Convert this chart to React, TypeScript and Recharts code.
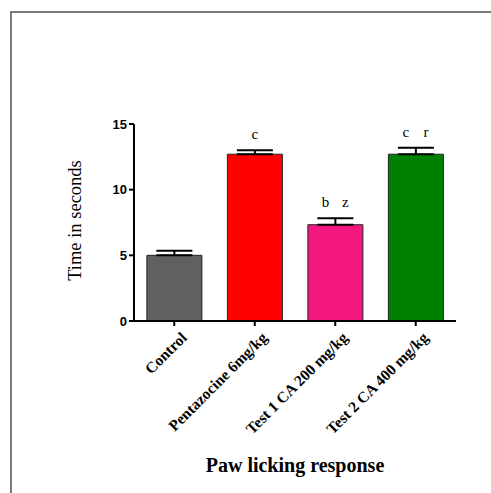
import React from "react";
import { BarChart, Bar, XAxis, YAxis, ErrorBar, Cell, LabelList } from "recharts";

const categories = ["Control", "Pentazocine 6mg/kg", "Test 1 CA 200 mg/kg", "Test 2 CA 400 mg/kg"];
const means = [5.0, 12.7, 7.33, 12.7];
const sems = [0.35, 0.3, 0.5, 0.5];
const letters = [[], ["c"], ["b", "z"], ["c", "r"]];
const colors = ["#606060", "#ff0000", "#f2187d", "#008000"];
const yTicks = [0, 5, 10, 15];

const data = categories.map((name, i) => ({
  name,
  value: means[i],
  err: [0, sems[i]],
  sem: sems[i],
  letters: letters[i],
}));

const XTick = (props: any) => {
  const { x, y, payload } = props;
  return (
    <g transform={`translate(${x},${y})`}>
      <text
        x={2}
        y={17}
        textAnchor="end"
        transform="rotate(-45)"
        fontFamily="'Liberation Serif', serif"
        fontWeight="bold"
        fontSize={15.5}
        fill="#000"
      >
        {payload.value}
      </text>
    </g>
  );
};

const SigLabel = (props: any) => {
  const { x, y, width, height, index } = props;
  const d = data[index];
  const pxPerUnit = height / d.value;
  const top = y - d.sem * pxPerUnit;
  const cx = x + width / 2;
  const ls: string[] = d.letters;
  if (!ls.length) return null;
  return (
    <g>
      {ls.map((l, k) => {
        const off = ls.length === 1 ? 0 : (k === 0 ? -10 : 10);
        return (
          <text
            key={k}
            x={cx + off}
            y={top - 11}
            textAnchor="middle"
            fontFamily="'Liberation Serif', serif"
            fontSize={15}
            fill="#000"
          >
            {l}
          </text>
        );
      })}
    </g>
  );
};

const YLabel = (props: any) => {
  const { viewBox } = props;
  const cx = viewBox.x - 19;
  const cy = viewBox.y + viewBox.height / 2 - 2;
  return (
    <text
      x={cx}
      y={cy}
      transform={`rotate(-90, ${cx}, ${cy})`}
      textAnchor="middle"
      dominantBaseline="central"
      fontFamily="'Liberation Serif', serif"
      fontSize={18.5}
      fill="#000"
    >
      Time in seconds
    </text>
  );
};

const XLabel = (props: any) => {
  const { viewBox } = props;
  const cx = viewBox.x + viewBox.width / 2;
  return (
    <text
      x={cx}
      y={viewBox.y + 151}
      textAnchor="middle"
      fontFamily="'Liberation Serif', serif"
      fontWeight="bold"
      fontSize={20}
      fill="#000"
    >
      Paw licking response
    </text>
  );
};

export default function App() {
  return (
    <div style={{ position: "absolute", left: 0, top: 0, width: 491, height: 493, background: "#fff", overflow: "hidden" }}>
      <div
        style={{
          position: "absolute",
          left: 10,
          top: 11,
          width: 500,
          height: 500,
          borderTop: "2px solid #7a7a7a",
          borderLeft: "2px solid #7a7a7a",
        }}
      />
      <div style={{ position: "absolute", left: 0, top: 0 }}>
        <BarChart
          width={491}
          height={493}
          data={data}
          margin={{ top: 124, right: 35, bottom: 72, left: 94 }}
          barCategoryGap="16%"
        >
          <XAxis
            dataKey="name"
            interval={0}
            height={100}
            tick={<XTick />}
            tickLine={{ stroke: "#000", strokeWidth: 2 }}
            axisLine={{ stroke: "#000", strokeWidth: 2 }}
            tickSize={5}
            label={<XLabel />}
          />
          <YAxis
            width={40}
            domain={[0, 15]}
            ticks={yTicks}
            interval={0}
            tickSize={5}
            tickMargin={2}
            tick={{ fontFamily: "'Liberation Sans', Arial, sans-serif", fontWeight: "bold", fontSize: 13, fill: "#000" }}
            tickLine={{ stroke: "#000", strokeWidth: 2 }}
            axisLine={{ stroke: "#000", strokeWidth: 2 }}
            label={<YLabel />}
          />
          <Bar dataKey="value" isAnimationActive={false} stroke="#222" strokeWidth={1}>
            {data.map((d, i) => (
              <Cell key={i} fill={colors[i]} />
            ))}
            <ErrorBar dataKey="err" width={18} stroke="#000" strokeWidth={2} />
            <LabelList dataKey="value" content={<SigLabel />} />
          </Bar>
        </BarChart>
      </div>
    </div>
  );
}
